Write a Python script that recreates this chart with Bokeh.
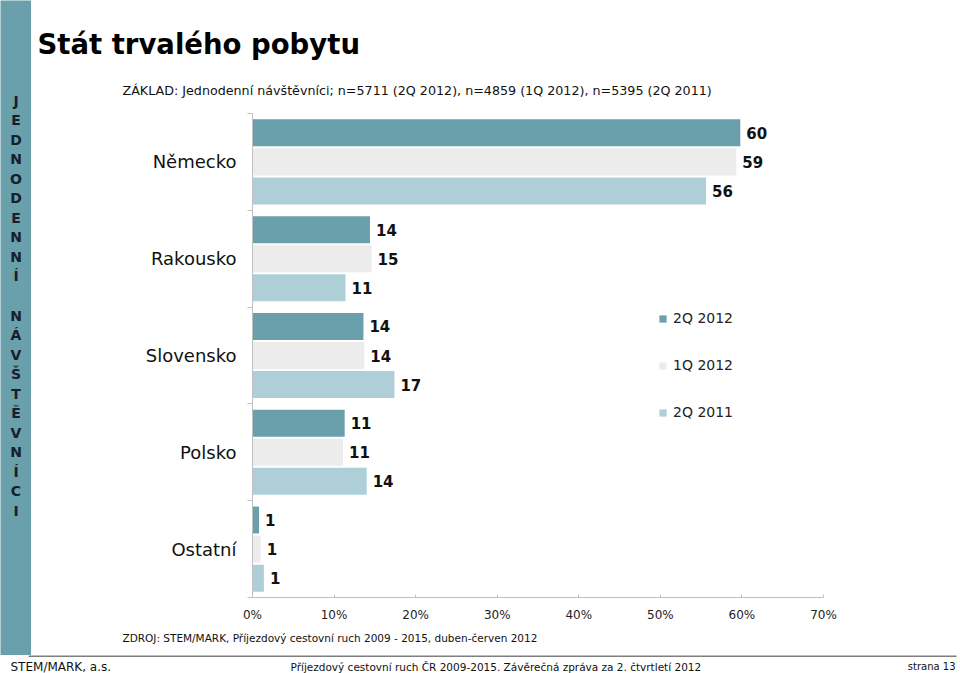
from bokeh.plotting import figure
from bokeh.layouts import row, column
from bokeh.models import (Range1d, FixedTicker, ColumnDataSource, LabelSet, Legend,
                          LegendItem)
from bokeh.core.properties import value
from bokeh.embed import file_html
from bokeh.resources import INLINE

# ---------------- data ----------------
countries = ["Německo", "Rakousko", "Slovensko", "Polsko", "Ostatní"]
series_names = ["2Q 2012", "1Q 2012", "2Q 2011"]
values_2q2012 = [59.8, 14.4, 13.6, 11.3, 0.8]
values_1q2012 = [59.3, 14.6, 13.7, 11.1, 1.0]
values_2q2011 = [55.6, 11.4, 17.4, 14.0, 1.4]
x_ticks = [0, 10, 20, 30, 40, 50, 60, 70]
x_tick_labels = ["0%", "10%", "20%", "30%", "40%", "50%", "60%", "70%"]
title_text = "Stát trvalého pobytu"
subtitle_text = "ZÁKLAD: Jednodenní návštěvníci; n=5711 (2Q 2012), n=4859 (1Q 2012), n=5395 (2Q 2011)"
source_text = "ZDROJ: STEM/MARK, Příjezdový cestovní ruch 2009 - 2015, duben-červen 2012"
footer_left = "STEM/MARK, a.s."
footer_center = "Příjezdový cestovní ruch ČR 2009-2015. Závěrečná zpráva za 2. čtvrtletí 2012"
footer_right = "strana 13"
side_word1 = "JEDNODENNÍ"
side_word2 = "NÁVŠTĚVNÍCI"

# ---------------- styles / geometry ----------------
colors = ["#6a9fac", "#ececec", "#afcfd8"]
SIDE_COLOR = "#6a9fac"
FONT = "DejaVu Sans"
W, H = 960, 673
SIDE_W, TOP_H, MAIN_H, SRC_H = 31, 105, 520, 30
FOOT_H = H - TOP_H - MAIN_H - SRC_H
RIGHT_W = W - SIDE_W


def deco(w, h, fill="white"):
    f = figure(width=w, height=h, output_backend="svg", toolbar_location=None,
               x_range=Range1d(0, w), y_range=Range1d(h, 0),
               x_axis_location=None, y_axis_location=None, min_border=0)
    f.grid.visible = False
    f.outline_line_color = None
    f.background_fill_color = fill
    f.border_fill_color = fill
    return f


def txt(f, x, y, s, size, bold=False, align="left", baseline="middle", color="#111111"):
    f.text(x=[x], y=[y], text=[s], text_font=value(FONT), text_font_size=size,
           text_font_style="bold" if bold else "normal", text_align=align,
           text_baseline=baseline, text_color=color)


# ---------------- main chart ----------------
n = len(countries)
FL, FT, FW, FH = 221, 8, 571, 484
p = figure(width=RIGHT_W, height=MAIN_H, output_backend="svg", toolbar_location=None,
           x_range=Range1d(0, 70), y_range=Range1d(0, n),
           min_border_left=FL, min_border_right=RIGHT_W - FL - FW,
           min_border_top=FT, min_border_bottom=MAIN_H - FT - FH)
p.outline_line_color = None
p.grid.visible = False
p.background_fill_color = "white"
p.border_fill_color = "white"

centers = [n - i - 0.5 for i in range(n)]
offsets = [0.3, 0.0, -0.3]
all_values = [values_2q2012, values_1q2012, values_2q2011]
renderers = []
for name, vals, off, col in zip(series_names, all_values, offsets, colors):
    src = ColumnDataSource(dict(
        y=[c + off for c in centers], v=vals,
        lab=[f"{v:.0f}" for v in vals]))
    r = p.hbar(y="y", left=0, right="v", height=0.279, source=src,
               fill_color=col, line_color=None)
    renderers.append(r)
    p.add_layout(LabelSet(x="v", y="y", text="lab", source=src, x_offset=6,
                          text_baseline="middle", text_font=value(FONT),
                          text_font_size="15px", text_font_style="bold",
                          text_color="#111111"))

xa = p.xaxis[0]
xa.ticker = FixedTicker(ticks=x_ticks)
xa.major_label_overrides = {t: l for t, l in zip(x_ticks, x_tick_labels)}
xa.axis_line_color = "#c0c0c0"
xa.major_tick_line_color = "#c0c0c0"
xa.major_tick_in = 3
xa.major_tick_out = 0
xa.minor_tick_line_color = None
xa.major_label_standoff = 10
xa.major_label_text_font = FONT
xa.major_label_text_font_size = "12px"
xa.major_label_text_color = "#222222"

ya = p.yaxis[0]
ya.ticker = FixedTicker(ticks=centers, minor_ticks=list(range(n + 1)))
ya.major_label_overrides = {c: name for c, name in zip(centers, countries)}
ya.axis_line_color = "#c0c0c0"
ya.major_tick_line_color = None
ya.major_tick_in = 0
ya.major_tick_out = 0
ya.minor_tick_line_color = "#c0c0c0"
ya.minor_tick_in = 0
ya.minor_tick_out = 5
ya.major_label_standoff = 11
ya.major_label_text_font = FONT
ya.major_label_text_font_size = "18px"
ya.major_label_text_color = "#111111"

legend = Legend(items=[LegendItem(label=nm, renderers=[r]) for nm, r in zip(series_names, renderers)],
                location=(406, 177), orientation="vertical",
                glyph_width=9, glyph_height=9, label_height=16, spacing=31,
                padding=0, margin=0, border_line_alpha=0, background_fill_alpha=0,
                label_standoff=6, label_text_font=FONT, label_text_font_size="14px",
                label_text_color="#222222")
p.add_layout(legend)

# ---------------- decorations ----------------
side = deco(SIDE_W, TOP_H + MAIN_H + SRC_H, fill=SIDE_COLOR)
for k, ch in enumerate(side_word1):
    txt(side, 15.5, 100 + 19.5 * k, ch, "14px", bold=True, align="center", color="#15202b")
for k, ch in enumerate(side_word2):
    txt(side, 15.5, 315 + 19.5 * k, ch, "14px", bold=True, align="center", color="#15202b")

header = deco(RIGHT_W, TOP_H)
txt(header, 6, 43.5, title_text, "27.5px", bold=True, color="#000000")
txt(header, 91, 90, subtitle_text, "12.7px")

source = deco(RIGHT_W, SRC_H)
txt(source, 91, 12, source_text, "10.5px")

footer = deco(W, FOOT_H)
footer.segment(x0=[28], y0=[0.5], x1=[956], y1=[0.5], line_color="#000000", line_width=1)
txt(footer, 10, 11, footer_left, "12px")
txt(footer, 290, 11, footer_center, "10.5px")
txt(footer, 955, 11, footer_right, "10px", align="right")

right_col = column(row(header, spacing=0), p, row(source, spacing=0), spacing=0)
layout = column(row(side, right_col, spacing=0), footer, spacing=0)

open("out.html", "w").write(file_html(layout, INLINE))
